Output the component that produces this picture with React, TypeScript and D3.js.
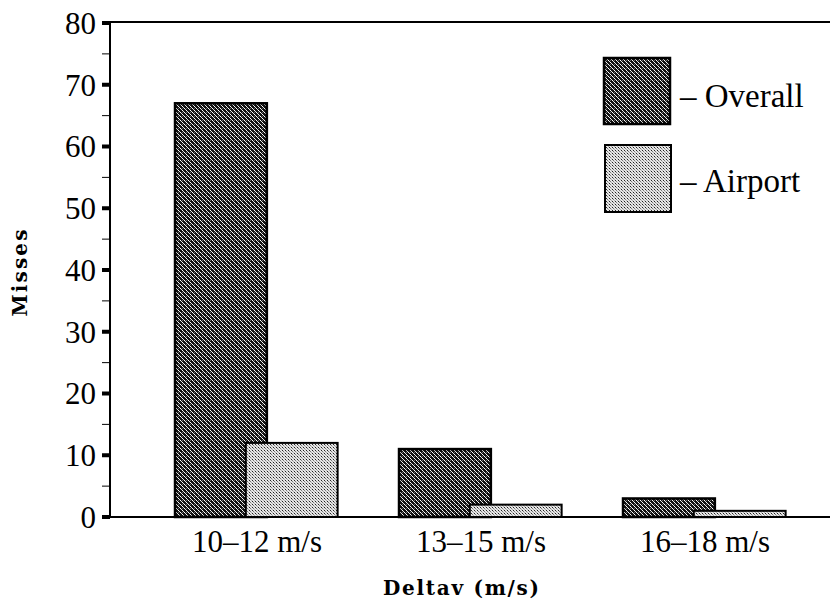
import React from "react";
import * as d3 from "d3";

const categories = ["10–12 m/s", "13–15 m/s", "16–18 m/s"];
const overall = [67, 11, 3];
const airport = [12, 2, 1];
const yTicks = [0, 10, 20, 30, 40, 50, 60, 70, 80];
const yMinor = [5, 15, 25, 35, 45, 55, 65, 75];
const legendLabels = ["– Overall", "– Airport"];

const W = 830;
const H = 605;
const serif = "'Liberation Serif', 'Times New Roman', serif";
const titleFont = "'DejaVu Serif', 'Liberation Serif', serif";

export default function App() {
  const axisX = 110;
  const y = d3.scaleLinear().domain([0, 80]).range([517, 23]);
  const x = d3.scaleBand<string>().domain(categories).range([145, 817]);
  const bw = x.bandwidth();
  const barW = bw * 0.41;
  const center = (c: string) => (x(c) as number) + bw / 2;

  return (
    <svg width={W} height={H} style={{ position: "absolute", left: 0, top: 0, background: "#fff" }}>
      <defs>
        <pattern id="pOverall" width="4" height="4" patternUnits="userSpaceOnUse">
          <rect width="4" height="4" fill="#111" />
          <rect x="0" y="0" width="1" height="1" fill="#fff" />
          <rect x="1" y="1" width="1" height="1" fill="#ddd" />
          <rect x="2" y="2" width="1" height="1" fill="#fff" />
          <rect x="3" y="3" width="1" height="1" fill="#ddd" />
          <rect x="2" y="0" width="1" height="1" fill="#666" />
        </pattern>
        <pattern id="pAirport" width="3" height="3" patternUnits="userSpaceOnUse">
          <rect width="3" height="3" fill="#e6e6e6" />
          <rect x="0" y="0" width="1" height="1" fill="#222" />
          <rect x="1" y="1" width="1" height="1" fill="#777" />
          <rect x="2" y="2" width="1" height="1" fill="#aaa" />
        </pattern>
      </defs>

      {/* frame lines */}
      <line x1={axisX} x2={W} y1={y(80) - 1} y2={y(80) - 1} stroke="#000" strokeWidth={2} />
      <line x1={axisX} x2={axisX} y1={y(80) - 2} y2={y(0) + 1} stroke="#000" strokeWidth={2} />

      {/* bars */}
      {categories.map((c, i) => {
        const cx = center(c);
        const ox = cx - bw * 0.366;
        const ax = cx - bw * 0.05;
        return (
          <g key={c}>
            <rect x={ox} y={y(overall[i])} width={barW} height={y(0) - y(overall[i])}
              fill="url(#pOverall)" stroke="#000" strokeWidth={2.5} />
            <rect x={ax} y={y(airport[i])} width={barW} height={y(0) - y(airport[i])}
              fill="url(#pAirport)" stroke="#000" strokeWidth={2} />
          </g>
        );
      })}

      <line x1={axisX} x2={W} y1={y(0)} y2={y(0)} stroke="#000" strokeWidth={2} />

      {/* y ticks */}
      {yMinor.map((t) => (
        <line key={"m" + t} x1={axisX - 8} x2={axisX} y1={y(t)} y2={y(t)} stroke="#000" strokeWidth={1} />
      ))}
      {yTicks.map((t) => (
        <g key={t}>
          <rect x={axisX - 8} y={y(t) - 2} width={8} height={4} fill="#000" />
          <text x={axisX - 14} y={y(t)} dy="0.35em" textAnchor="end" fontFamily={serif} fontSize={31} fill="#000">
            {t}
          </text>
        </g>
      ))}

      {/* x labels */}
      {categories.map((c) => (
        <text key={c} x={center(c)} y={552} textAnchor="middle" fontFamily={serif} fontSize={31} fill="#000">
          {c}
        </text>
      ))}

      {/* axis titles */}
      <text transform={`translate(27, 273) rotate(-90)`} textAnchor="middle" fontFamily={titleFont}
        fontWeight="bold" fontSize={20} fill="#000" textLength={87} lengthAdjust="spacing">
        Misses
      </text>
      <text x={461} y={595} textAnchor="middle" fontFamily={titleFont} fontWeight="bold" fontSize={20}
        fill="#000" textLength={156} lengthAdjust="spacing">
        Deltav (m/s)
      </text>

      {/* legend */}
      <rect x={604} y={58} width={66} height={66} fill="url(#pOverall)" stroke="#000" strokeWidth={2.5} />
      <rect x={605} y={145} width={66} height={67} fill="url(#pAirport)" stroke="#000" strokeWidth={2} />
      <text x={680} y={107} fontFamily={serif} fontSize={33} fill="#000">{legendLabels[0]}</text>
      <text x={680} y={192} fontFamily={serif} fontSize={33} fill="#000">{legendLabels[1]}</text>
    </svg>
  );
}
